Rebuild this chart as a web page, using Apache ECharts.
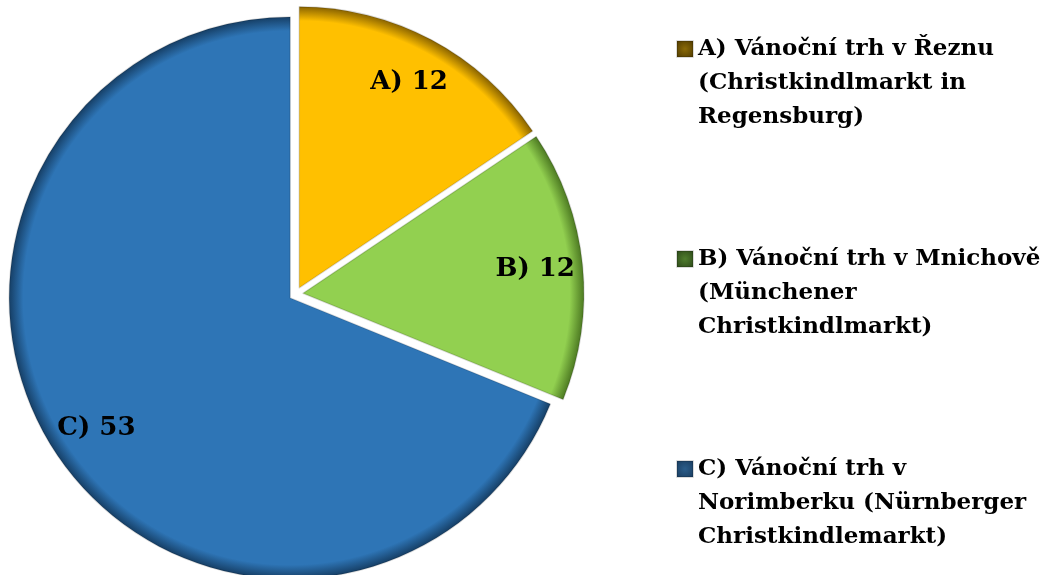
<!DOCTYPE html>
<html>
<head>
<meta charset="utf-8">
<script src="https://cdn.jsdelivr.net/npm/echarts@6/dist/echarts.min.js"></script>
<style>
html,body{margin:0;padding:0;background:#fff;}
#chart{width:1045px;height:575px;}
</style>
</head>
<body>
<div id="chart"></div>
<script>
// ---- data ----
var categories = ['A)', 'B)', 'C)'];
var values = [12, 12, 53];
var legendLines = [
  ['A) Vánoční trh v Řeznu', '(Christkindlmarkt in', 'Regensburg)'],
  ['B) Vánoční trh v Mnichově', '(Münchener', 'Christkindlmarkt)'],
  ['C) Vánoční trh v', 'Norimberku (Nürnberger', 'Christkindlemarkt)']
];

// ---- styles ----
var baseColors = ['#FFC000', '#92D050', '#2E75B6'];
var edgeColors = ['#8a6400', '#4d7a22', '#163f66'];
var iconInner = ['#8a6a08', '#4f7d2e', '#2b5d8a'];
var iconOuter = ['#4a3600', '#2a4417', '#183a5c'];
var CX = 296, CY = 294, R = 281;
var FONT = '"DejaVu Serif", "Liberation Serif", serif';

function sliceColor(i) {
  return {
    type: 'radial', x: CX, y: CY, r: R, global: true,
    colorStops: [
      { offset: 0, color: baseColors[i] },
      { offset: 0.95, color: baseColors[i] },
      { offset: 1, color: edgeColors[i] }
    ]
  };
}

var mainData = categories.map(function (c, i) {
  return {
    name: c, value: values[i], selected: true,
    itemStyle: { color: sliceColor(i), borderColor: 'rgba(0,0,0,0.14)', borderWidth: 1.5 }
  };
});
var labelData = categories.map(function (c, i) {
  return { name: c, value: values[i], selected: true };
});

var legendData = categories.map(function (c, i) {
  return {
    name: c,
    icon: 'rect',
    itemStyle: {
      color: {
        type: 'radial', x: 0.5, y: 0.5, r: 0.7,
        colorStops: [{ offset: 0, color: iconInner[i] }, { offset: 1, color: iconOuter[i] }]
      }
    }
  };
});

var chart = echarts.init(document.getElementById('chart'), null, { renderer: 'canvas' });
chart.setOption({
  backgroundColor: '#ffffff',
  animation: false,
  legend: {
    orient: 'vertical',
    left: 671,
    top: -41,
    itemWidth: 16,
    itemHeight: 16,
    itemGap: 40,
    selectedMode: false,
    data: legendData,
    formatter: function (name) {
      var idx = categories.indexOf(name);
      return '\n\n' + legendLines[idx].join('\n');
    },
    textStyle: {
      fontFamily: FONT,
      fontWeight: 'bold',
      fontSize: 23,
      lineHeight: 34,
      color: '#000'
    }
  },
  series: [
    {
      type: 'pie',
      center: [CX, CY],
      radius: [0, R],
      startAngle: 90,
      clockwise: true,
      selectedMode: 'multiple',
      selectedOffset: 7,
      silent: true,
      label: { show: false },
      labelLine: { show: false },
      emphasis: { disabled: true },
      data: mainData
    },
    {
      type: 'pie',
      center: [CX, CY],
      radius: [R * 0.64, R],
      startAngle: 90,
      clockwise: true,
      selectedMode: 'multiple',
      selectedOffset: 7,
      silent: true,
      itemStyle: { color: 'rgba(0,0,0,0)' },
      label: {
        show: true,
        position: 'inside',
        formatter: '{b} {c}',
        fontFamily: FONT,
        fontWeight: 'bold',
        fontSize: 26,
        color: '#000'
      },
      labelLine: { show: false },
      emphasis: { disabled: true },
      data: labelData
    }
  ]
});
</script>
</body>
</html>
